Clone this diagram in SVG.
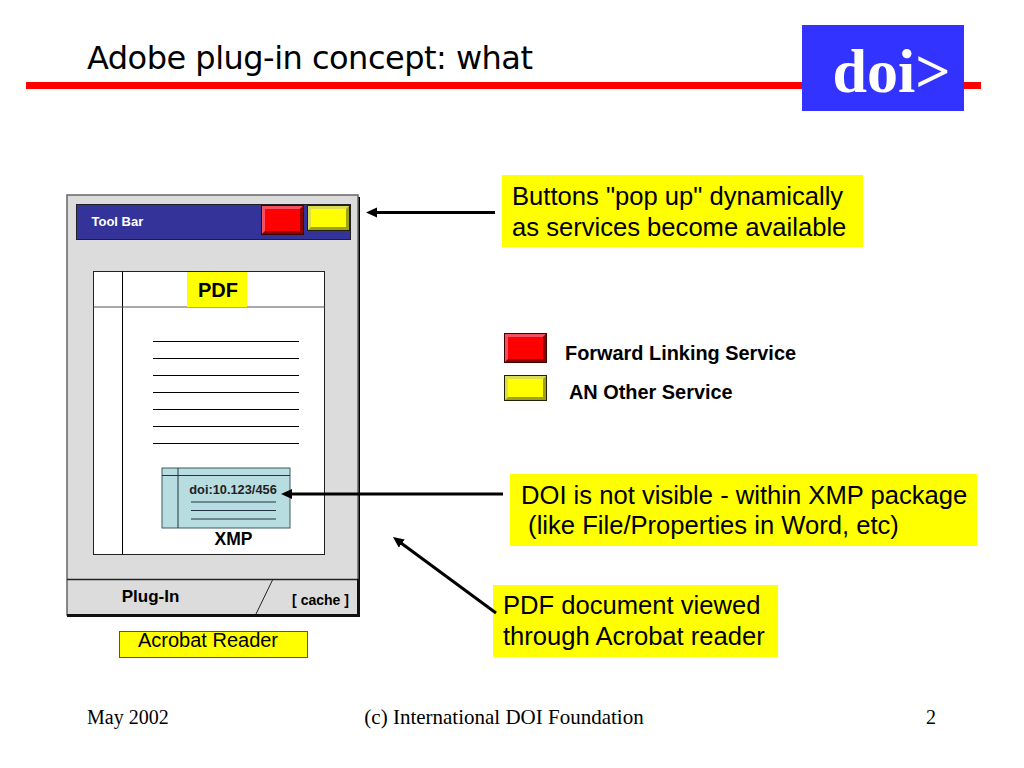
<svg xmlns="http://www.w3.org/2000/svg" width="1024" height="768" viewBox="0 0 1024 768">
<style>
text{font-family:"Liberation Sans",Arial,sans-serif;fill:#000}
.b{font-weight:bold}
.callout{font-size:25.6px}
.s{font-family:"Liberation Serif","Times New Roman",serif;font-size:20px}
.thin{stroke:#000;stroke-width:1;fill:none}
.y{fill:#ffff00}
.arrow{stroke:#000;stroke-width:3;fill:none;marker-end:url(#ah)}
</style>
<defs>
<marker id="ah" markerUnits="userSpaceOnUse" markerWidth="12" markerHeight="12" refX="1" refY="5" orient="auto"><path d="M11 0L0 5L11 10Z" transform="rotate(180 5.5 5)" fill="#000"/></marker>
<g id="btnR">
<rect x="0" y="0" width="43" height="30" fill="#ff0000"/>
<path d="M0 0H43L39 4H4V26L0 30Z" fill="#f05060"/>
<path d="M43 0V30H0L4 26H39V4Z" fill="#900000"/>
<rect x="0.500" y="0.500" width="42" height="29" fill="none" stroke="#400000" stroke-width="1"/>
</g>
<g id="btnY">
<rect x="0" y="0" width="43" height="26" fill="#ffff00"/>
<path d="M0 0H43L39 4H4V22L0 26Z" fill="#dcdc50"/>
<path d="M43 0V26H0L4 22H39V4Z" fill="#a0a020"/>
<rect x="0.500" y="0.500" width="42" height="25" fill="none" stroke="#222200" stroke-width="1"/>
</g>
</defs>

<g id="header">
<rect x="26" y="82" width="955" height="7" fill="#ff0000"/>
<text x="87" y="69" font-size="32" style="font-family:'DejaVu Sans',sans-serif" textLength="446" lengthAdjust="spacing">Adobe plug-in concept: what</text>
</g>
<g id="logo">
<rect x="802" y="25" width="162" height="86" fill="#3333ff"/>
<text x="891.500" y="92" font-size="62" class="b" text-anchor="middle" style="font-family:'Liberation Serif',serif;fill:#fff">doi&gt;</text>
</g>

<g id="window">
<rect x="69" y="197" width="291" height="420" fill="#000"/>
<rect x="67" y="195" width="291" height="420" fill="#dcdcdc" stroke="#666" stroke-width="1.5"/>
</g>
<g id="toolbar">
<rect x="76.500" y="204.500" width="274" height="35" fill="#333399" stroke="#222" stroke-width="1"/>
<text x="91.500" y="226" font-size="13" class="b" style="fill:#fff">Tool Bar</text>
<use href="#btnR" x="261" y="205"/>
<use href="#btnY" x="307" y="205"/>
</g>
<g id="page">
<rect x="93.500" y="271.500" width="231" height="283" fill="#fff" stroke="#222" stroke-width="1"/>
<path class="thin" d="M122.500 271.500V554.500"/>
<path d="M93.500 307H324.500" stroke="#555" stroke-width="1.200" fill="none"/>
<rect x="187" y="272" width="60" height="35" class="y"/>
<text x="218" y="297" font-size="20" class="b" text-anchor="middle">PDF</text>
<path class="thin" d="M153 341.500H299M153 358.500H299M153 375.500H299M153 392.500H299M153 409.500H299M153 426.500H299M153 443.500H299"/>
</g>
<g id="xmp">
<rect x="162" y="468" width="128" height="60" fill="#b8dde0" stroke="#3a5a60" stroke-width="1"/>
<path d="M162 475.500H290M178 468V528" stroke="#234" stroke-width="1" fill="none"/>
<text x="233" y="494" font-size="12.800" class="b" text-anchor="middle" style="fill:#222">doi:10.123/456</text>
<path d="M191 502H276M191 510.500H276M191 519H276" stroke="#234" stroke-width="1" fill="none"/>
<text x="233.500" y="545" font-size="17.500" class="b" text-anchor="middle">XMP</text>
</g>
<g id="pluginbar">
<rect x="68" y="579" width="291" height="36" fill="#dcdcdc"/>
<path d="M67 579.500H359" stroke="#222" stroke-width="1.500" fill="none"/>
<path d="M67 615.500H360" stroke="#111" stroke-width="3" fill="none"/>
<path d="M358.500 579V616" stroke="#111" stroke-width="3" fill="none"/>
<path d="M272.500 580L256 614" stroke="#222" stroke-width="1" fill="none"/>
<text x="150.500" y="602" font-size="17" class="b" text-anchor="middle">Plug-In</text>
<text x="320.500" y="605" font-size="14" class="b" text-anchor="middle">[ cache ]</text>
</g>
<g id="acrobat">
<rect x="119.500" y="631.500" width="188" height="26" class="y" stroke="#555" stroke-width="1"/>
<text x="208" y="647" font-size="20" text-anchor="middle">Acrobat Reader</text>
</g>

<g id="callout-buttons">
<rect x="502" y="175" width="361" height="72" class="y"/>
<text x="512" y="205" class="callout">Buttons "pop up" dynamically</text>
<text x="512" y="236" class="callout">as services become available</text>
</g>
<g id="legend-red">
<use href="#btnR" x="504" y="333"/>
<text x="565" y="360" font-size="19.900" class="b">Forward Linking Service</text>
</g>
<g id="legend-yellow">
<use href="#btnY" x="504" y="375"/>
<text x="569" y="399" font-size="19.900" class="b">AN Other Service</text>
</g>
<g id="callout-doi">
<rect x="510" y="474" width="467" height="72" class="y"/>
<text x="521" y="504" class="callout">DOI is not visible - within XMP package</text>
<text x="521" y="534" class="callout" xml:space="preserve"> (like File/Properties in Word, etc)</text>
</g>
<g id="callout-pdf">
<rect x="493" y="585" width="285" height="72" class="y"/>
<text x="503" y="614" class="callout">PDF document viewed</text>
<text x="503" y="645" class="callout">through Acrobat reader</text>
</g>

<g id="connectors">
<path class="arrow" d="M495 212.500H376"/>
<path class="arrow" d="M503 494H291"/>
<path class="arrow" d="M496 613L401 543"/>
</g>

<g id="footer">
<text x="87" y="724" class="s">May 2002</text>
<text x="504" y="724" class="s" style="font-size:21px" text-anchor="middle">(c) International DOI Foundation</text>
<text x="931" y="724" class="s" text-anchor="middle">2</text>
</g>
</svg>
